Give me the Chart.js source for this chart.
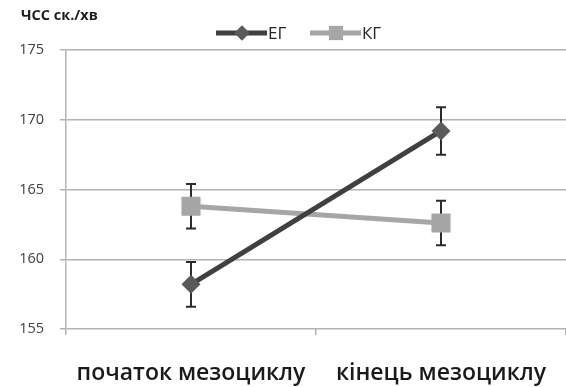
<!DOCTYPE html>
<html>
<head>
<meta charset="utf-8">
<script src="https://cdn.jsdelivr.net/npm/chart.js@4/dist/chart.umd.min.js"></script>
<style>
  html, body { margin: 0; padding: 0; background: #fff; }
  #wrap { width: 566px; height: 387px; position: relative; }
</style>
</head>
<body>
<div id="wrap"><canvas id="c" width="566" height="387"></canvas></div>
<script>
// Heart rate (beats/min) at start and end of the mesocycle
const categories = ['початок мезоциклу', 'кінець мезоциклу'];
const egValues = [158.2, 169.2];
const kgValues = [163.8, 162.6];
const egErrors = [1.6, 1.7];
const kgErrors = [1.6, 1.6];
const yTicks = [155, 160, 165, 170, 175];
const seriesNames = ['ЕГ', 'КГ'];
const yTitle = 'ЧСС ск./хв';

const DARK = '#404040';
const DARK_MARK = '#5a5a5a';
const LIGHT = '#a6a6a6';
const GRID = '#b3b3b3';
const FONT = '"Open Sans", "DejaVu Sans", sans-serif';

// Vertical error bars with caps, drawn under the markers
const errorBars = {
  id: 'errorBars',
  beforeDatasetsDraw(chart) {
    const ctx = chart.ctx;
    const y = chart.scales.y;
    const errs = [egErrors, kgErrors];
    ctx.save();
    ctx.strokeStyle = '#2b2b2b';
    ctx.lineWidth = 2;
    chart.data.datasets.forEach((ds, i) => {
      const meta = chart.getDatasetMeta(i);
      meta.data.forEach((pt, j) => {
        const v = ds.data[j];
        const e = errs[i][j];
        const top = y.getPixelForValue(v + e);
        const bot = y.getPixelForValue(v - e);
        const x = Math.round(pt.x);
        ctx.beginPath();
        ctx.moveTo(x, top); ctx.lineTo(x, bot);
        ctx.moveTo(x - 5, top); ctx.lineTo(x + 5, top);
        ctx.moveTo(x - 5, bot); ctx.lineTo(x + 5, bot);
        ctx.stroke();
      });
    });
    ctx.restore();
  }
};

// Axis caption and legend row
const header = {
  id: 'header',
  afterDraw(chart) {
    const ctx = chart.ctx;
    ctx.save();
    ctx.fillStyle = '#1f1f1f';
    ctx.font = 'bold 14.5px ' + FONT;
    ctx.textBaseline = 'middle';
    ctx.textAlign = 'left';
    ctx.fillText(yTitle, 21, 16);

    const items = [
      { name: seriesNames[0], color: DARK, mark: DARK_MARK, style: 'rectRot', x0: 216 },
      { name: seriesNames[1], color: LIGHT, mark: LIGHT, style: 'rect', x0: 310 }
    ];
    const ly = 33;
    items.forEach(it => {
      ctx.strokeStyle = it.color;
      ctx.lineWidth = 5;
      ctx.beginPath();
      ctx.moveTo(it.x0, ly); ctx.lineTo(it.x0 + 51, ly);
      ctx.stroke();
      ctx.fillStyle = it.mark;
      Chart.helpers.drawPoint(ctx, { pointStyle: it.style, radius: it.style === 'rect' ? 10 : 7.5, borderWidth: 0 }, it.x0 + 26, ly);
      ctx.fill();
      ctx.fillStyle = '#262626';
      ctx.font = '17px ' + FONT;
      ctx.fillText(it.name, it.x0 + 52, ly + 1);
    });
    ctx.restore();
  }
};

new Chart(document.getElementById('c'), {
  type: 'line',
  data: {
    labels: categories,
    datasets: [
      {
        label: seriesNames[0],
        data: egValues,
        borderColor: DARK,
        backgroundColor: DARK_MARK,
        borderWidth: 5,
        pointStyle: 'rectRot',
        pointRadius: 9.5,
        pointHoverRadius: 9.5,
        pointBorderWidth: 0,
        pointBackgroundColor: DARK_MARK
      },
      {
        label: seriesNames[1],
        data: kgValues,
        borderColor: LIGHT,
        backgroundColor: LIGHT,
        borderWidth: 5,
        pointStyle: 'rect',
        pointRadius: 13.5,
        pointHoverRadius: 13.5,
        pointBorderWidth: 0,
        pointBackgroundColor: LIGHT
      }
    ]
  },
  options: {
    responsive: false,
    animation: false,
    events: [],
    layout: { autoPadding: false, padding: { top: 50, right: 0, left: 0, bottom: 0 } },
    plugins: {
      legend: { display: false },
      tooltip: { enabled: false },
      title: { display: false }
    },
    scales: {
      x: {
        type: 'category',
        offset: true,
        grid: {
          offset: true,
          drawOnChartArea: false,
          drawTicks: true,
          tickLength: 6,
          color: GRID,
          lineWidth: 1.5
        },
        border: { display: false },
        ticks: {
          color: '#1a1a1a',
          font: { family: FONT, size: 23, weight: '600' },
          padding: 25,
          maxRotation: 0,
          autoSkip: false
        },
        afterFit(scale) {
          scale.height = 58;
          scale.paddingLeft = 0;
          scale.paddingRight = 0;
        }
      },
      y: {
        min: 155,
        max: 175,
        afterBuildTicks(scale) { scale.ticks = yTicks.map(v => ({ value: v })); },
        grid: {
          color: GRID,
          lineWidth: 1.5,
          tickLength: 6,
          drawTicks: true
        },
        border: { display: true, color: GRID, width: 1.5 },
        ticks: {
          color: '#404040',
          font: { family: FONT, size: 14.5 },
          padding: 16
        },
        afterFit(scale) { scale.width = 66; }
      }
    }
  },
  plugins: [errorBars, header]
});
</script>
</body>
</html>
